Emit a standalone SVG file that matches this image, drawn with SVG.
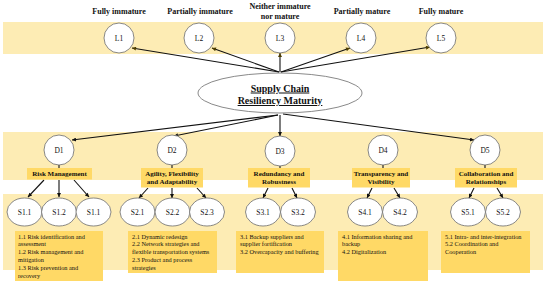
<svg xmlns="http://www.w3.org/2000/svg" width="550" height="285" viewBox="0 0 550 285">
<defs>
<style>
.band{fill:#FDECB4}
.gold{fill:#FFD966}
.node{fill:#fff;stroke:#6b6b6b;stroke-width:0.8}
.lbl{font-family:"Liberation Serif","Times New Roman",serif;fill:#111}
.top{font-size:8px;font-weight:bold;text-anchor:middle}
.nt{font-size:7.5px;text-anchor:middle}
.cat{font-size:7px;font-weight:bold;text-anchor:middle}
.desc{font-size:6.3px}
.title{font-size:10px;font-weight:bold;text-anchor:middle;text-decoration:underline}
.ln{stroke:#111;stroke-width:1.1;fill:none}
.lnL{stroke:#111;stroke-width:1.1;fill:none;marker-end:url(#ahL)}
.lnD{stroke:#111;stroke-width:1.1;fill:none;marker-end:url(#ah)}
</style>
<marker id="ah" viewBox="0 0 10 10" refX="10" refY="5" markerWidth="5" markerHeight="4" markerUnits="userSpaceOnUse" orient="auto"><path d="M0,0 L10,5 L0,10 z" fill="#111"/></marker>
<marker id="ahL" viewBox="0 0 10 10" refX="10" refY="5" markerWidth="5" markerHeight="4" markerUnits="userSpaceOnUse" orient="auto"><path d="M0,0 L10,5 L0,10 z" fill="#4d3d00"/></marker>
</defs>
<rect class="band" x="3" y="22" width="540" height="32"/>
<rect class="band" x="3" y="132" width="540" height="48"/>
<rect class="band" x="3" y="194" width="540" height="76"/>

<g id="labels-top" class="lbl">
<text class="top" x="119" y="14">Fully immature</text>
<text class="top" x="200" y="14">Partially immature</text>
<text class="top" x="280" y="9">Neither immature</text>
<text class="top" x="280" y="18.5">nor mature</text>
<text class="top" x="362" y="14">Partially mature</text>
<text class="top" x="441" y="14">Fully mature</text>
</g>

<g id="connectors">
<line class="lnL" x1="279" y1="72" x2="132" y2="48"/>
<line class="lnL" x1="279" y1="72" x2="212" y2="48"/>
<line class="lnL" x1="280" y1="72" x2="280" y2="53"/>
<line class="lnL" x1="281" y1="72" x2="350" y2="48"/>
<line class="lnL" x1="281" y1="72" x2="430" y2="47"/>
<line class="lnD" x1="278" y1="115" x2="72" y2="140"/>
<line class="lnD" x1="278" y1="115" x2="174" y2="136"/>
<line class="lnD" x1="280" y1="115" x2="280" y2="136"/>
<line class="lnD" x1="283" y1="114" x2="474" y2="140"/>
<line class="ln" x1="59" y1="165" x2="59" y2="168"/>
<line class="ln" x1="172" y1="165" x2="172" y2="168"/>
<line class="ln" x1="280" y1="166" x2="280" y2="168"/>
<line class="ln" x1="383" y1="165" x2="383" y2="168"/>
<line class="ln" x1="485" y1="165" x2="485" y2="168"/>
<line class="lnD" x1="44" y1="180" x2="28" y2="197"/>
<line class="lnD" x1="59" y1="180" x2="59" y2="197"/>
<line class="lnD" x1="74" y1="180" x2="89" y2="197"/>
<line class="lnD" x1="148" y1="188" x2="139" y2="198"/>
<line class="lnD" x1="172" y1="188" x2="172" y2="198"/>
<line class="lnD" x1="197" y1="188" x2="206" y2="198"/>
<line class="lnD" x1="268" y1="188" x2="263" y2="198"/>
<line class="lnD" x1="292" y1="188" x2="297" y2="198"/>
<line class="lnD" x1="372" y1="188" x2="367" y2="198"/>
<line class="lnD" x1="394" y1="188" x2="400" y2="198"/>
<line class="lnD" x1="474" y1="188" x2="469" y2="198"/>
<line class="lnD" x1="497" y1="188" x2="503" y2="198"/>
</g>

<g id="L1"><circle class="node" cx="119" cy="38" r="15"/><text class="lbl nt" x="119" y="40.5">L1</text></g>
<g id="L2"><circle class="node" cx="199" cy="38" r="15"/><text class="lbl nt" x="199" y="40.5">L2</text></g>
<g id="L3"><circle class="node" cx="280" cy="38" r="15"/><text class="lbl nt" x="280" y="40.5">L3</text></g>
<g id="L4"><circle class="node" cx="361" cy="38" r="15"/><text class="lbl nt" x="361" y="40.5">L4</text></g>
<g id="L5"><circle class="node" cx="441" cy="38" r="15"/><text class="lbl nt" x="441" y="40.5">L5</text></g>

<g id="SCRM"><ellipse class="node" cx="280" cy="93" rx="82" ry="20"/>
<text class="lbl title" x="280" y="91.5">Supply Chain</text>
<text class="lbl title" x="280" y="104">Resiliency Maturity</text></g>

<g id="D1"><circle class="node" cx="59" cy="150" r="15"/><text class="lbl nt" x="59" y="152.5">D1</text>
<rect class="gold" x="27" y="168" width="65" height="11.5"/><text class="lbl cat" x="59.5" y="176">Risk Management</text></g>
<g id="D2"><circle class="node" cx="172" cy="150" r="15"/><text class="lbl nt" x="172" y="152.5">D2</text>
<rect class="gold" x="141" y="168" width="62" height="19.5"/><text class="lbl cat" x="172" y="175.8">Agility, Flexibility</text><text class="lbl cat" x="172" y="184">and Adaptability</text></g>
<g id="D3"><circle class="node" cx="280" cy="151" r="15"/><text class="lbl nt" x="280" y="153.5">D3</text>
<rect class="gold" x="248" y="168" width="62" height="19.5"/><text class="lbl cat" x="279" y="175.8">Redundancy and</text><text class="lbl cat" x="279" y="184">Robustness</text></g>
<g id="D4"><circle class="node" cx="383" cy="150" r="15"/><text class="lbl nt" x="383" y="152.5">D4</text>
<rect class="gold" x="352" y="168" width="58" height="19.5"/><text class="lbl cat" x="381" y="175.8">Transparency and</text><text class="lbl cat" x="381" y="184">Visibility</text></g>
<g id="D5"><circle class="node" cx="485" cy="150" r="15"/><text class="lbl nt" x="485" y="152.5">D5</text>
<rect class="gold" x="455" y="168" width="62" height="19.5"/><text class="lbl cat" x="486" y="175.8">Collaboration and</text><text class="lbl cat" x="486" y="184">Relationships</text></g>

<g id="S1-1"><ellipse class="node" cx="24.5" cy="212" rx="17.5" ry="14"/><text class="lbl nt" x="24.5" y="214.5">S1.1</text></g>
<g id="S1-2"><ellipse class="node" cx="59" cy="212" rx="17.5" ry="14"/><text class="lbl nt" x="59" y="214.5">S1.2</text></g>
<g id="S1-3"><ellipse class="node" cx="93.5" cy="212" rx="17.5" ry="14"/><text class="lbl nt" x="93.5" y="214.5">S1.1</text></g>
<g id="S2-1"><ellipse class="node" cx="137.5" cy="212" rx="17.5" ry="14"/><text class="lbl nt" x="137.5" y="214.5">S2.1</text></g>
<g id="S2-2"><ellipse class="node" cx="172.5" cy="212" rx="17.5" ry="14"/><text class="lbl nt" x="172.5" y="214.5">S2.2</text></g>
<g id="S2-3"><ellipse class="node" cx="207" cy="212" rx="17.5" ry="14"/><text class="lbl nt" x="207" y="214.5">S2.3</text></g>
<g id="S3-1"><ellipse class="node" cx="263" cy="212" rx="17.5" ry="14"/><text class="lbl nt" x="263" y="214.5">S3.1</text></g>
<g id="S3-2"><ellipse class="node" cx="298" cy="212" rx="17.5" ry="14"/><text class="lbl nt" x="298" y="214.5">S3.2</text></g>
<g id="S4-1"><ellipse class="node" cx="365" cy="212" rx="17.5" ry="14"/><text class="lbl nt" x="365" y="214.5">S4.1</text></g>
<g id="S4-2"><ellipse class="node" cx="400" cy="212" rx="17.5" ry="14"/><text class="lbl nt" x="400" y="214.5">S4.2</text></g>
<g id="S5-1"><ellipse class="node" cx="468" cy="212" rx="17.5" ry="14"/><text class="lbl nt" x="468" y="214.5">S5.1</text></g>
<g id="S5-2"><ellipse class="node" cx="503" cy="212" rx="17.5" ry="14"/><text class="lbl nt" x="503" y="214.5">S5.2</text></g>

<g id="desc1"><rect class="gold" x="15" y="231" width="88" height="50"/>
<text class="lbl desc" x="18" y="238.5">1.1 Risk identification and</text>
<text class="lbl desc" x="18" y="246.3">assessment</text>
<text class="lbl desc" x="18" y="254.1">1.2 Risk management and</text>
<text class="lbl desc" x="18" y="261.9">mitigation</text>
<text class="lbl desc" x="18" y="269.7">1.3 Risk prevention and</text>
<text class="lbl desc" x="18" y="277.5">recovery</text></g>
<g id="desc2"><rect class="gold" x="128" y="231" width="89" height="42"/>
<text class="lbl desc" x="132" y="238.5">2.1 Dynamic redesign</text>
<text class="lbl desc" x="132" y="246.3">2.2 Network strategies and</text>
<text class="lbl desc" x="132" y="254.1">flexible transportation systems</text>
<text class="lbl desc" x="132" y="261.9">2.3 Product and process</text>
<text class="lbl desc" x="132" y="269.7">strategies</text></g>
<g id="desc3"><rect class="gold" x="236" y="231" width="88" height="42"/>
<text class="lbl desc" x="240" y="238.5">3.1 Backup suppliers and</text>
<text class="lbl desc" x="240" y="246.3">supplier fortification</text>
<text class="lbl desc" x="240" y="254.1">3.2 Overcapacity and buffering</text></g>
<g id="desc4"><rect class="gold" x="338" y="231" width="90" height="50"/>
<text class="lbl desc" x="342" y="238.5">4.1 Information sharing and</text>
<text class="lbl desc" x="342" y="246.3">backup</text>
<text class="lbl desc" x="342" y="254.1">4.2 Digitalization</text></g>
<g id="desc5"><rect class="gold" x="441" y="231" width="89" height="42"/>
<text class="lbl desc" x="445" y="238.5">5.1 Intra- and inter-integration</text>
<text class="lbl desc" x="445" y="246.3">5.2 Coordination and</text>
<text class="lbl desc" x="445" y="254.1">Cooperation</text></g>
</svg>
